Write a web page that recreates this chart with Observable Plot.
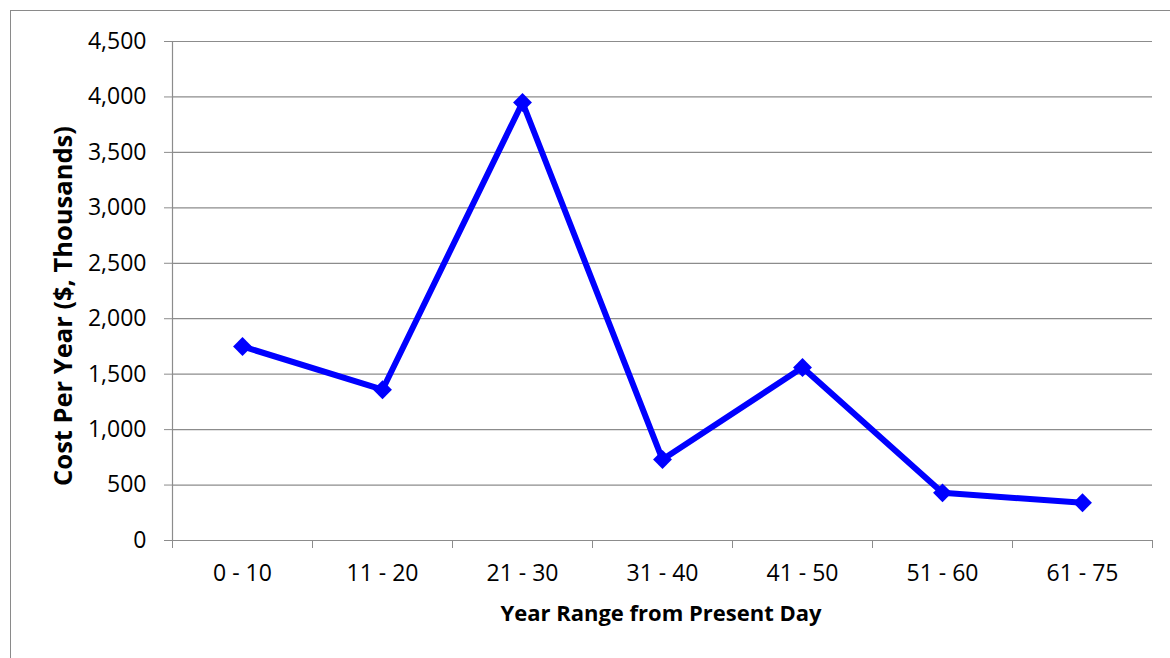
<!DOCTYPE html>
<html>
<head>
<meta charset="utf-8">
<script src="https://cdn.jsdelivr.net/npm/d3@7"></script>
<script src="https://cdn.jsdelivr.net/npm/@observablehq/plot@0.6"></script>
<style>
  html, body { margin: 0; padding: 0; background: #fff; }
  #wrap { position: relative; width: 1170px; height: 658px; overflow: hidden; }
  #frame { position: absolute; left: 10px; top: 10px; width: 1300px; height: 800px; border: 1px solid #8a8a8a; box-sizing: border-box; }
  #chart { position: absolute; left: 0; top: 0; }
</style>
</head>
<body>
<div id="wrap"><div id="frame"></div><div id="chart"></div></div>
<script>
const categories = ["0 - 10", "11 - 20", "21 - 30", "31 - 40", "41 - 50", "51 - 60", "61 - 75"];
const costs = [1750, 1360, 3950, 730, 1560, 430, 340];
const yTicks = [0, 500, 1000, 1500, 2000, 2500, 3000, 3500, 4000, 4500];
const xTitle = "Year Range from Present Day";
const yTitle = "Cost Per Year ($, Thousands)";

const data = categories.map((c, i) => ({index: i, category: c, cost: costs[i]}));
const boundaries = d3.range(categories.length + 1).map(i => i - 0.5);
const grey = "#8c8c8c";
const font = "'Open Sans', sans-serif";

const chart = Plot.plot({
  width: 1170,
  height: 658,
  marginLeft: 172,
  marginRight: 18,
  marginTop: 41,
  marginBottom: 118,
  style: {fontFamily: font, fontSize: "23px", color: "#000", background: "transparent"},
  x: {type: "linear", domain: [-0.5, categories.length - 0.5]},
  y: {domain: [0, 4500]},
  marks: [
    Plot.ruleY(yTicks, {stroke: grey, strokeWidth: 1.2}),
    Plot.ruleX([-0.5], {y1: 0, y2: 4500, stroke: grey, strokeWidth: 1.2}),
    Plot.axisY({ticks: yTicks, tickSize: 8, tickPadding: 18, tickFormat: d3.format(","), stroke: grey, label: null, fontSize: 23}),
    Plot.axisX({ticks: boundaries, tickSize: 8, tickFormat: () => "", stroke: grey, label: null}),
    Plot.axisX({ticks: d3.range(categories.length), tickSize: 0, tickPadding: 24, tickFormat: i => categories[i], label: null, fontSize: 23}),
    Plot.line(data, {x: "index", y: "cost", stroke: "#0000ff", strokeWidth: 6, strokeLinejoin: "miter"}),
    Plot.dot(data, {x: "index", y: "cost", symbol: "diamond2", r: 8.5, fill: "#0000ff", stroke: "none"})
  ]
});

// Axis titles
const svg = d3.select(chart);
svg.append("text")
  .attr("x", 661).attr("y", 612)
  .attr("text-anchor", "middle").attr("dominant-baseline", "central")
  .attr("font-family", font).attr("font-weight", "bold").attr("font-size", 22)
  .text(xTitle);
svg.append("text")
  .attr("transform", "translate(62,306) rotate(-90)")
  .attr("text-anchor", "middle").attr("dominant-baseline", "central")
  .attr("font-family", font).attr("font-weight", "bold").attr("font-size", 25.5)
  .text(yTitle);

document.getElementById("chart").appendChild(chart);
</script>
</body>
</html>
